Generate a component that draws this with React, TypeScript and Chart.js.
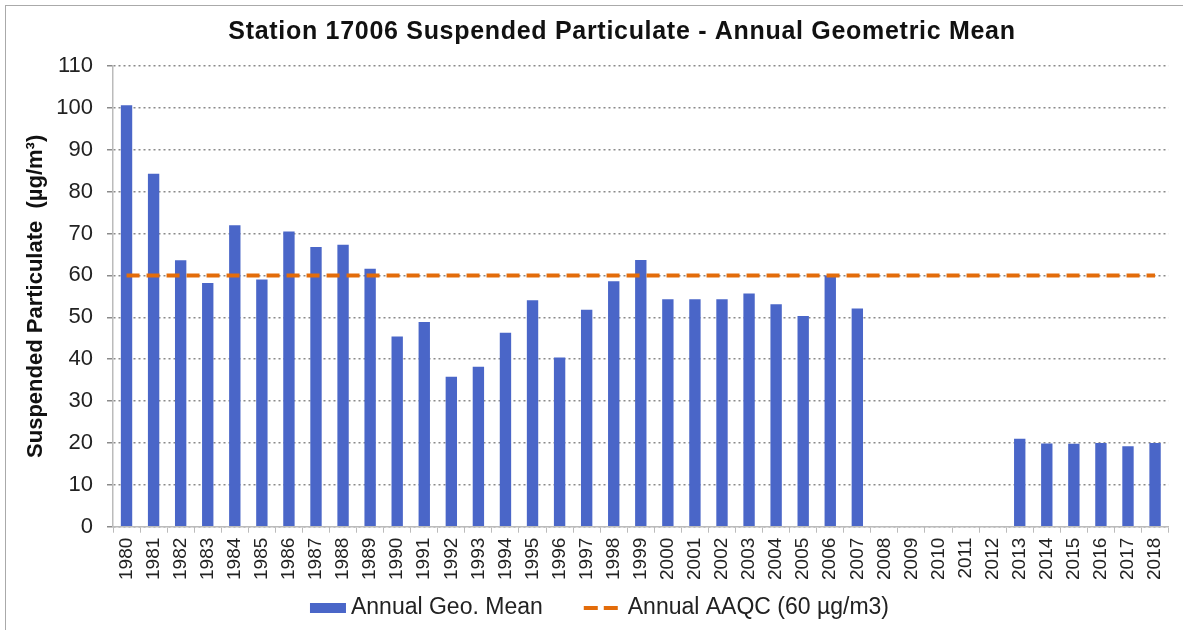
import React, { useEffect, useRef } from "react";
import { Chart, registerables } from "chart.js";

Chart.register(...registerables);

const years = [
  "1980","1981","1982","1983","1984","1985","1986","1987","1988","1989",
  "1990","1991","1992","1993","1994","1995","1996","1997","1998","1999",
  "2000","2001","2002","2003","2004","2005","2006","2007","2008","2009",
  "2010","2011","2012","2013","2014","2015","2016","2017","2018",
];

const geoMean: (number | null)[] = [
  100.6, 84.3, 63.6, 58.2, 72.0, 59.0, 70.5, 66.8, 67.3, 61.6,
  45.4, 48.9, 35.8, 38.2, 46.3, 54.1, 40.4, 51.8, 58.6, 63.7,
  54.3, 54.3, 54.3, 55.7, 53.1, 50.3, 60.0, 52.1, null, null,
  null, null, null, 21.0, 19.9, 19.8, 20.0, 19.2, 20.0,
];

const aaqc: number[] = years.map(() => 60);

const titleText = "Station 17006 Suspended Particulate - Annual Geometric Mean";
const yTitle = "Suspended Particulate  (µg/m³)";
const barLabel = "Annual Geo. Mean";
const lineLabel = "Annual AAQC (60 µg/m3)";

const FONT = "'Liberation Sans', Arial, sans-serif";
const BAR_COLOR = "#4A66C8";
const LINE_COLOR = "#E36C0A";

// Title and bottom legend drawn from the chart's own data
const decorations = {
  id: "decorations",
  afterDraw(chart: any) {
    const ctx = chart.ctx as CanvasRenderingContext2D;
    ctx.save();
    // title
    ctx.font = `bold 25px ${FONT}`;
    (ctx as any).letterSpacing = "0.7px";
    ctx.textAlign = "center";
    ctx.textBaseline = "middle";
    ctx.fillStyle = "#111";
    ctx.fillText(titleText, 622, 32);
    (ctx as any).letterSpacing = "0px";

    // legend
    const ds = chart.data.datasets;
    ctx.font = `23px ${FONT}`;
    ctx.textAlign = "left";
    const boxW = 36;
    const lineW = 34;
    const w1 = ctx.measureText(ds[0].label).width;
    const w2 = ctx.measureText(ds[1].label).width;
    const total = boxW + 5 + w1 + 41 + lineW + 10 + w2;
    let x = chart.width / 2 + 8 - total / 2;
    const y = 608;
    ctx.fillStyle = ds[0].backgroundColor;
    ctx.fillRect(x, y - 5, boxW, 10);
    x += boxW + 5;
    ctx.fillStyle = "#222";
    ctx.fillText(ds[0].label, x, y);
    x += w1 + 41;
    ctx.strokeStyle = ds[1].borderColor;
    ctx.lineWidth = 4;
    ctx.setLineDash([14, 6]);
    ctx.beginPath();
    ctx.moveTo(x, y);
    ctx.lineTo(x + lineW, y);
    ctx.stroke();
    ctx.setLineDash([]);
    x += lineW + 10;
    ctx.fillStyle = "#222";
    ctx.fillText(ds[1].label, x, y);
    ctx.restore();
  },
};

export default function App() {
  const ref = useRef<HTMLCanvasElement | null>(null);

  useEffect(() => {
    document.body.style.margin = "0";
    const canvas = ref.current;
    if (!canvas) return;
    const chart = new Chart(canvas, {
      type: "bar",
      data: {
        labels: years,
        datasets: [
          {
            type: "bar",
            label: barLabel,
            data: geoMean,
            backgroundColor: BAR_COLOR,
            borderColor: BAR_COLOR,
            borderWidth: 0,
            barPercentage: 0.42,
            categoryPercentage: 1,
            order: 2,
          } as any,
          {
            type: "line",
            label: lineLabel,
            data: aaqc,
            borderColor: LINE_COLOR,
            backgroundColor: LINE_COLOR,
            borderWidth: 4,
            borderDash: [13, 7],
            pointRadius: 0,
            fill: false,
            order: 1,
          } as any,
        ],
      },
      plugins: [decorations],
      options: {
        responsive: false,
        animation: false,
        layout: { padding: { left: 10, right: 11, top: 66, bottom: 45 } },
        plugins: {
          title: { display: false },
          legend: { display: false },
          tooltip: { enabled: false },
        },
        scales: {
          x: {
            offset: true,
            grid: {
              display: true,
              offset: true,
              drawOnChartArea: false,
              drawTicks: true,
              tickLength: 6,
              color: "#bbb",
            },
            border: { display: true, color: "#bbb", width: 1.5 },
            ticks: {
              autoSkip: false,
              maxRotation: 90,
              minRotation: 90,
              color: "#222",
              padding: 5,
              font: { family: FONT, size: 19 },
            },
          },
          y: {
            min: 0,
            max: 110,
            afterFit: (s: any) => {
              s.width = 103;
            },
            ticks: {
              stepSize: 10,
              color: "#222",
              padding: 14,
              font: { family: FONT, size: 22 },
            },
            grid: {
              color: "#8a8a8a",
              lineWidth: 1.5,
              tickLength: 6,
              drawTicks: true,
            },
            border: { display: true, color: "#bbb", width: 1.5, dash: [2, 3] } as any,
            title: {
              display: true,
              text: yTitle,
              color: "#111",
              font: { family: FONT, size: 22, weight: "bold" },
              padding: { top: 13, bottom: 10 },
            },
          },
        },
      },
    });
    return () => chart.destroy();
  }, []);

  return (
    <div style={{ width: 1183, height: 630, position: "relative" }}>
      <canvas ref={ref} width={1183} height={630} style={{ display: "block" }} />
      <div
        style={{
          position: "absolute",
          left: 5,
          top: 5,
          right: -2,
          bottom: -2,
          border: "1.5px solid #aaa",
          pointerEvents: "none",
        }}
      />
    </div>
  );
}
